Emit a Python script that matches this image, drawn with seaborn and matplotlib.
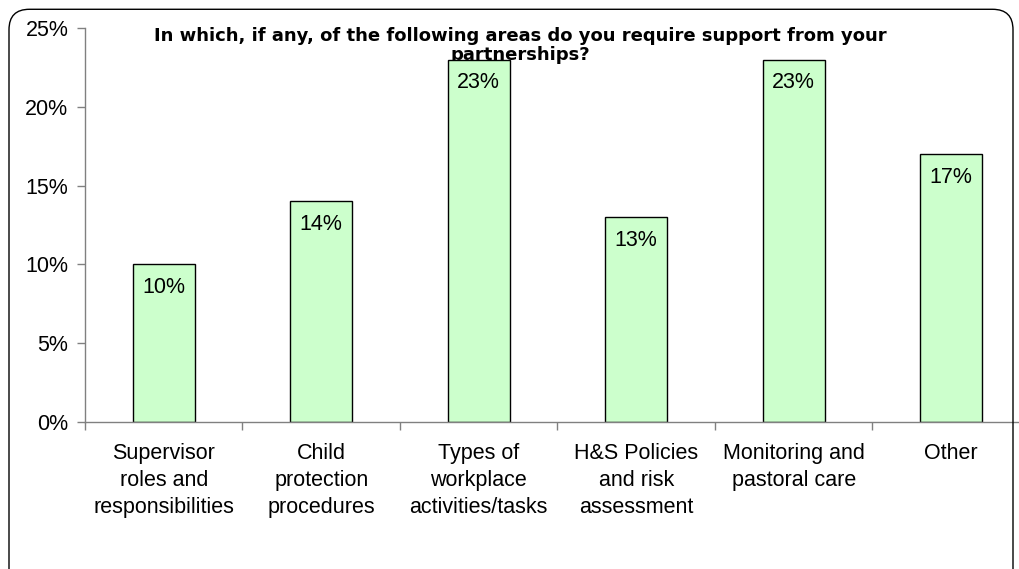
import matplotlib
matplotlib.use("Agg")
import matplotlib.pyplot as plt
from matplotlib.patches import FancyBboxPatch
from matplotlib.ticker import FuncFormatter, FixedLocator
import seaborn as sns
import pandas as pd

categories = [
    "Supervisor\nroles and\nresponsibilities",
    "Child\nprotection\nprocedures",
    "Types of\nworkplace\nactivities/tasks",
    "H&S Policies\nand risk\nassessment",
    "Monitoring and\npastoral care",
    "Other",
]
values = [10, 14, 23, 13, 23, 17]
title_text = ("In which, if any, of the following areas do you require support from your\n"
              "partnerships?")

sns.set_theme(style="white")
plt.rcParams["font.family"] = ["Liberation Sans", "DejaVu Sans"]

df = pd.DataFrame({"category": categories, "value": values})

fig = plt.figure(figsize=(10.2, 5.69), dpi=100)
fig.patch.set_facecolor("white")

# rounded frame around the whole chart
frame = FancyBboxPatch((9 / 1020, -0.05), (1013 - 9) / 1020, (569 - 9) / 569 + 0.05 - 0.0005,
                       boxstyle="round,pad=0,rounding_size=0.02",
                       transform=fig.transFigure, facecolor="none",
                       edgecolor="black", linewidth=1.0, mutation_aspect=1020 / 569)
fig.patches.append(frame)

ax = fig.add_axes([85 / 1020, 1 - 422 / 569, (1030 - 85) / 1020, (422 - 28) / 569])
ax.set_facecolor("none")

sns.barplot(data=df, x="category", y="value", ax=ax, color="#CCFFCC",
            width=0.395, edgecolor="black", linewidth=1.0, saturation=1, zorder=2)

ax.set_ylim(0, 25)
ax.set_xlim(-0.5, len(categories) - 0.5)
ax.set_xlabel("")
ax.set_ylabel("")

ax.yaxis.set_major_locator(FixedLocator([0, 5, 10, 15, 20, 25]))
ax.yaxis.set_major_formatter(FuncFormatter(lambda v, p: f"{v:.0f}%"))

# boundaries between categories carry the tick marks
ax.set_xticks(range(len(categories)))
ax.set_xticklabels(categories, fontsize=15.5, linespacing=1.37)
ax.set_xticks([i - 0.5 for i in range(len(categories) + 1)], minor=True)
ax.tick_params(axis="x", which="major", length=0, pad=15, labelcolor="black", labelsize=15.5)
ax.tick_params(axis="x", which="minor", length=6, width=1, color="#808080", direction="out", bottom=True)
ax.tick_params(axis="y", which="major", length=6, width=1, color="#808080", direction="out",
               left=True, pad=6, labelsize=15.5, labelcolor="black")

for side in ["top", "right"]:
    ax.spines[side].set_visible(False)
for side in ["left", "bottom"]:
    ax.spines[side].set_color("#808080")
    ax.spines[side].set_linewidth(1.0)

# value labels just inside the top of each bar
for i, v in enumerate(values):
    ax.annotate(f"{v}%", xy=(i, v), xytext=(0, -9), textcoords="offset points",
                ha="center", va="top", fontsize=15.5, color="black", zorder=3)

# chart title, drawn beneath the bars
ax.text(520 / 1020, 1 - 27 / 569, title_text, transform=fig.transFigure,
        ha="center", va="top", fontsize=13, fontweight="bold", color="black",
        family=["DejaVu Sans"], linespacing=1.1, zorder=1, clip_on=False)

fig.savefig("out.png", dpi=100, facecolor="white")
